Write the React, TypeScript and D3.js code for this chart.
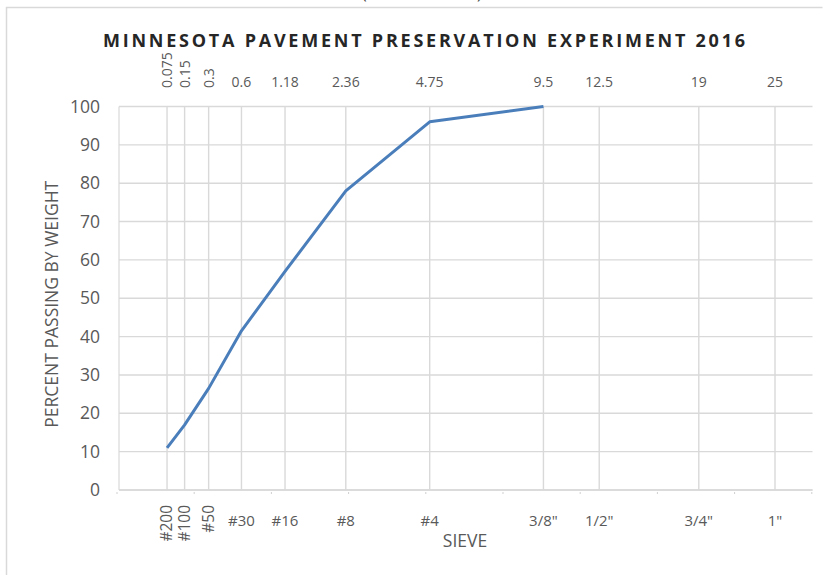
import React from "react";
import * as d3 from "d3";

const sieveSizes = [0.075, 0.15, 0.3, 0.6, 1.18, 2.36, 4.75, 9.5, 12.5, 19, 25];
const sieveSizeLabels = ["0.075", "0.15", "0.3", "0.6", "1.18", "2.36", "4.75", "9.5", "12.5", "19", "25"];
const sieveNames = ["#200", "#100", "#50", "#30", "#16", "#8", "#4", '3/8"', '1/2"', '3/4"', '1"'];
const gradationSizes = [0.075, 0.15, 0.3, 0.6, 1.18, 2.36, 4.75, 9.5];
const percentPassing = [11, 17, 26.5, 41.5, 57, 78, 96, 100];
const yTicks = [0, 10, 20, 30, 40, 50, 60, 70, 80, 90, 100];
const rotatedCount = 3;

const W = 827;
const H = 575;
const left = 119;
const right = 812.5;
const top = 106.5;
const bottom = 490;
const xMax = Math.pow(4.5, 1 / 0.45);

const FONT = "'Open Sans', Carlito, Lato, sans-serif";
const GRID = "#d9d9d9";
const TXT = "#595959";

export default function App() {
  const x = d3.scalePow().exponent(0.45).domain([0, xMax]).range([left, right]);
  const y = d3.scaleLinear().domain([0, 100]).range([bottom, top]);
  const line = d3
    .line<number>()
    .x((_, i) => x(gradationSizes[i]))
    .y((d) => y(d));
  const minorTicks = d3.range(0, 10).map((i) => 117 + i * 77.2);

  return (
    <svg
      width={W}
      height={H}
      style={{ position: "absolute", left: 0, top: 0, background: "#fff" }}
      fontFamily={FONT}
    >
      {/* outer chart border */}
      <path d={`M6.5,${H} V7.5 H822.5`} fill="none" stroke="#d9d9d9" strokeWidth={1.5} />
      <text x={362} y={-1} fontSize={16} fill="#404040">(</text>
      <text x={477} y={-1} fontSize={16} fill="#404040">)</text>

      <text
        x={103}
        y={46.5}
        fontSize={18}
        fontWeight="bold"
        textLength={642}
        lengthAdjust="spacing"
        fill="#262626"
      >
        MINNESOTA PAVEMENT PRESERVATION EXPERIMENT 2016
      </text>

      {/* horizontal grid */}
      {yTicks.map((t) => (
        <line key={"h" + t} x1={left} x2={right} y1={y(t)} y2={y(t)} stroke={GRID} strokeWidth={1.4} />
      ))}
      {/* vertical grid */}
      {sieveSizes.map((s) => (
        <line key={"v" + s} x1={x(s)} x2={x(s)} y1={top} y2={bottom} stroke={GRID} strokeWidth={1.4} />
      ))}
      <line x1={left} x2={left} y1={top} y2={bottom} stroke={GRID} strokeWidth={1.2} />
      <line x1={left} x2={right} y1={bottom} y2={bottom} stroke={GRID} strokeWidth={1.4} />
      {minorTicks.map((m, i) => (
        <line key={"m" + i} x1={m} x2={m} y1={bottom + 2} y2={bottom + 4} stroke="#cfcfcf" strokeWidth={1} />
      ))}

      {/* y tick labels */}
      {yTicks.map((t) => (
        <text key={"yl" + t} x={100} y={y(t) + 6} textAnchor="end" fontSize={17.5} fill={TXT}>
          {t}
        </text>
      ))}

      {/* top size labels */}
      {sieveSizes.map((s, i) =>
        i < rotatedCount ? (
          <text
            key={"ts" + s}
            transform={`translate(${x(s) + 5},88) rotate(-90)`}
            fontSize={14}
            fill={TXT}
          >
            {sieveSizeLabels[i]}
          </text>
        ) : (
          <text key={"ts" + s} x={x(s)} y={87} textAnchor="middle" fontSize={14} fill={TXT}>
            {sieveSizeLabels[i]}
          </text>
        )
      )}

      {/* bottom sieve names */}
      {sieveSizes.map((s, i) =>
        i < rotatedCount ? (
          <text
            key={"bn" + s}
            transform={`translate(${x(s) + 5},505) rotate(-90)`}
            textAnchor="end"
            fontSize={15.5}
            fill={TXT}
          >
            {sieveNames[i]}
          </text>
        ) : (
          <text key={"bn" + s} x={x(s)} y={526} textAnchor="middle" fontSize={15} fill={TXT}>
            {sieveNames[i]}
          </text>
        )
      )}

      <text x={465} y={547} textAnchor="middle" fontSize={17.5} fill={TXT}>
        SIEVE
      </text>
      <text
        transform={`translate(58,${(top + bottom) / 2 + 6}) rotate(-90)`}
        textAnchor="middle"
        fontSize={17.5}
        fill={TXT}
      >
        PERCENT PASSING BY WEIGHT
      </text>

      <path
        d={line(percentPassing) || ""}
        fill="none"
        stroke="#4a7ebb"
        strokeWidth={3}
        strokeLinejoin="round"
      />
    </svg>
  );
}
